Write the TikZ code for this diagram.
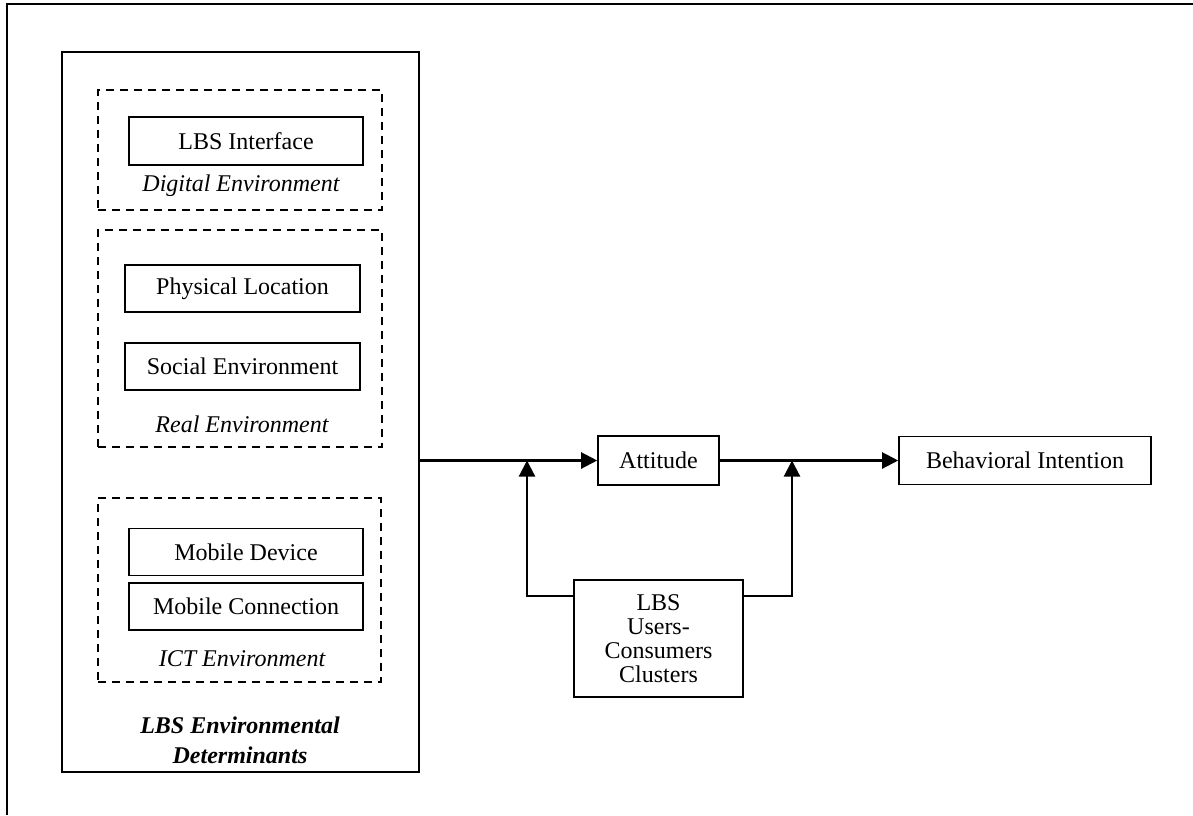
\documentclass[tikz,border=0pt]{standalone}
\usepackage{fontspec}
\setmainfont{Liberation Serif}
\usetikzlibrary{arrows.meta,calc}
\tikzset{
  box/.style={draw, line width=0.8pt, inner sep=0pt, align=center, font=\fontsize{12}{12}\selectfont},
  group/.style={draw, dash pattern=on 4pt off 3pt, line width=0.9pt, inner sep=0pt},
  outerbox/.style={draw, line width=0.8pt, inner sep=0pt},
  lab/.style={font=\itshape\fontsize{12}{14}\selectfont},
  title/.style={font=\bfseries\itshape\fontsize{12}{15}\selectfont, align=center},
  arr/.style={line width=1.1pt, -{Triangle[length=8pt,width=8pt]}},
  frame/.style={line width=1.1pt}
}
\begin{document}
\begin{tikzpicture}[x=0.5pt,y=-0.5pt]
\useasboundingbox (0,0) rectangle (1193,815);
\draw[frame] (1193,4) -- (7,4) -- (7,815);

% left determinant box
\node[outerbox, minimum width=178.5pt, minimum height=360pt] (env) at (240.5,412) {};
\node[group, minimum width=142pt, minimum height=60pt] (g1) at (240,150) {};
\node[group, minimum width=142pt, minimum height=108.5pt] (g2) at (240,338.5) {};
\node[group, minimum width=141.5pt, minimum height=92pt] (g3) at (239.5,590) {};

\node[box, minimum width=117pt, minimum height=24pt] (iface) at (246,141) {LBS Interface};
\node[lab] (digital) at (241,186) {Digital Environment};

\node[box, minimum width=117.5pt, minimum height=23.5pt] (phys) at (242.5,288.5) {Physical Location};
\node[box, minimum width=117.5pt, minimum height=23.5pt] (social) at (242.5,366.5) {Social Environment};
\node[lab] (real) at (242,424) {Real Environment};

\node[box, minimum width=117pt, minimum height=23.5pt] (device) at (246,552) {Mobile Device};
\node[box, minimum width=117pt, minimum height=23.5pt] (conn) at (246,606.5) {Mobile Connection};
\node[lab] (ict) at (242,659) {ICT Environment};

\node[title] (envtitle) at (240,740) {LBS Environmental\\Determinants};

% right part
\node[box, minimum width=60.5pt, minimum height=24.5pt] (att) at (658.5,460.5) {Attitude};
\node[box, minimum width=126pt, minimum height=24pt] (bi) at (1025,460.5) {Behavioral Intention};
\node[box, minimum width=84.5pt, minimum height=58.5pt] (clus) at (658.5,638.5) {LBS\\Users-\\Consumers\\Clusters};

\coordinate (j1) at (527,460.5);
\coordinate (j2) at (792,460.5);

\draw[arr] (env.east |- att.west) -- (att.west);
\draw[arr] (att.east) -- (bi.west);
\draw[arr] ($(clus.north west)+(0,17)$) -| (j1);
\draw[arr] ($(clus.north east)+(0,17)$) -| (j2);
\end{tikzpicture}
\end{document}
